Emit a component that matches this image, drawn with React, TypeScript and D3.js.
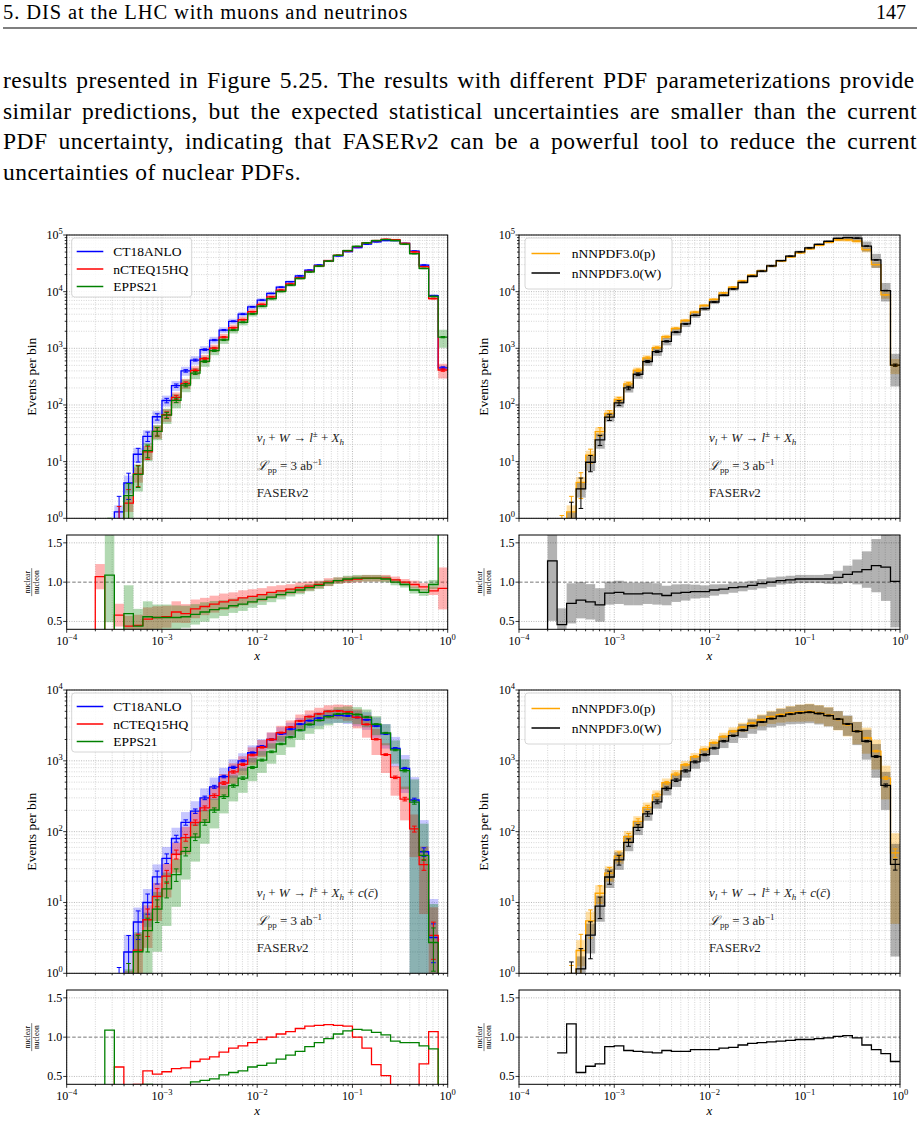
import { useLayoutEffect, useRef } from 'react'
import * as d3 from 'd3'

const FONT = "'Liberation Serif', 'DejaVu Serif', serif"

// log10(x) edges of the histogram bins (0.1 per bin)
const logEdges = [
  -3.7, -3.6, -3.5, -3.4, -3.3, -3.2, -3.1, -3.0, -2.9, -2.8, -2.7, -2.6, -2.5,
  -2.4, -2.3, -2.2, -2.1, -2.0, -1.9, -1.8, -1.7, -1.6, -1.5, -1.4, -1.3, -1.2,
  -1.1, -1.0, -0.9, -0.8, -0.7, -0.6, -0.5, -0.4, -0.3, -0.2, -0.1, 0.0,
]

// nu_l + W -> l + X_h : events per bin, relative PDF uncertainty, nuclear/nucleon
const ct18W = [0.3, 0.35, 1.3, 4.2, 13.5, 28, 62, 120, 220, 400, 620, 950, 1400, 2100, 3000, 4000, 5400, 7100, 9300, 12000, 15000, 19000, 24000, 29500, 35000, 43000, 51000, 60000, 69000, 76000, 80000, 80000, 71000, 52000, 29500, 8500, 450]
const ct18UncW = [0.3, 0.3, 0.3, 0.35, 0.3, 0.28, 0.25, 0.22, 0.2, 0.18, 0.17, 0.15, 0.14, 0.12, 0.11, 0.1, 0.09, 0.08, 0.07, 0.06, 0.05, 0.05, 0.04, 0.04, 0.04, 0.04, 0.04, 0.04, 0.04, 0.04, 0.04, 0.04, 0.04, 0.04, 0.05, 0.06, 0.1]
const nctq15RatioW = [1.07, 0.2, 0.58, 0.44, 0.45, 0.53, 0.55, 0.56, 0.62, 0.6, 0.66, 0.69, 0.72, 0.75, 0.77, 0.8, 0.82, 0.84, 0.87, 0.89, 0.91, 0.93, 0.95, 0.97, 1.0, 1.02, 1.03, 1.04, 1.05, 1.05, 1.05, 1.03, 1.0, 0.97, 0.94, 0.89, 0.92]
const nctq15UncW = [0.15, 0.3, 0.25, 0.3, 0.3, 0.28, 0.26, 0.25, 0.22, 0.2, 0.18, 0.16, 0.15, 0.14, 0.13, 0.12, 0.11, 0.1, 0.09, 0.08, 0.07, 0.07, 0.06, 0.05, 0.05, 0.04, 0.04, 0.04, 0.04, 0.04, 0.04, 0.04, 0.04, 0.05, 0.05, 0.06, 0.29]
const epps21RatioW = [0, 1.09, 0, 0.6, 0.44, 0.56, 0.55, 0.55, 0.55, 0.56, 0.59, 0.62, 0.65, 0.67, 0.7, 0.72, 0.75, 0.78, 0.81, 0.84, 0.87, 0.9, 0.93, 0.96, 0.99, 1.02, 1.04, 1.05, 1.05, 1.05, 1.04, 1.0, 0.97, 0.9, 0.87, 0.97, 3.5]
const epps21UncW = [0, 0.55, 0, 0.6, 0.5, 0.35, 0.3, 0.3, 0.28, 0.25, 0.22, 0.2, 0.17, 0.15, 0.13, 0.12, 0.1, 0.09, 0.08, 0.07, 0.06, 0.06, 0.05, 0.05, 0.04, 0.04, 0.04, 0.04, 0.04, 0.04, 0.04, 0.04, 0.04, 0.05, 0.05, 0.06, 0.35]
const nnpdfProtonW = [0.15, 0.45, 1.3, 4.3, 13, 34, 71, 125, 235, 410, 680, 1030, 1600, 2250, 3100, 4350, 5700, 7300, 9500, 12000, 15500, 19500, 23500, 28500, 34500, 41000, 48500, 57000, 65500, 74000, 82000, 82000, 78000, 55000, 30000, 8800, 500]
const nnpdfProtonUncW = [0.5, 0.4, 0.3, 0.25, 0.2, 0.18, 0.15, 0.14, 0.13, 0.12, 0.11, 0.1, 0.09, 0.08, 0.07, 0.07, 0.06, 0.06, 0.05, 0.05, 0.05, 0.04, 0.04, 0.04, 0.04, 0.04, 0.04, 0.04, 0.04, 0.05, 0.06, 0.07, 0.08, 0.1, 0.12, 0.15, 0.3]
const nnpdfRatioW = [1.27, 0.46, 0.73, 0.77, 0.75, 0.71, 0.86, 0.87, 0.85, 0.85, 0.86, 0.85, 0.83, 0.86, 0.87, 0.88, 0.88, 0.9, 0.91, 0.93, 0.94, 0.96, 0.98, 1.0, 1.02, 1.03, 1.04, 1.04, 1.04, 1.04, 1.06, 1.1, 1.13, 1.16, 1.21, 1.19, 1.01]
const nnpdfUncW = [0.6, 0.45, 0.35, 0.3, 0.3, 0.3, 0.17, 0.17, 0.17, 0.17, 0.16, 0.16, 0.15, 0.13, 0.12, 0.1, 0.09, 0.08, 0.07, 0.07, 0.06, 0.06, 0.06, 0.06, 0.05, 0.05, 0.05, 0.05, 0.05, 0.06, 0.08, 0.1, 0.14, 0.2, 0.28, 0.36, 0.58]

// nu_l + W -> l + X_h + c(cbar)
const ct18C = [0.1, 0.2, 0.5, 2.0, 5.3, 10, 23, 42, 80, 135, 195, 300, 430, 600, 810, 1000, 1300, 1600, 2000, 2400, 2800, 3300, 3700, 4000, 4300, 4400, 4300, 4100, 3800, 3100, 2400, 1500, 780, 280, 52, 3.2, 0]
const ct18UncC = [0.9, 0.9, 0.9, 0.75, 0.6, 0.55, 0.5, 0.45, 0.42, 0.4, 0.38, 0.36, 0.35, 0.33, 0.3, 0.28, 0.27, 0.26, 0.25, 0.24, 0.23, 0.22, 0.22, 0.22, 0.22, 0.22, 0.23, 0.25, 0.28, 0.32, 0.38, 0.45, 0.55, 1.1, 1.8, 2.5, 0]
const nctq15RatioC = [0, 0, 0.62, 0.3, 0.4, 0.57, 0.53, 0.56, 0.6, 0.61, 0.69, 0.72, 0.75, 0.81, 0.86, 0.89, 0.93, 0.97, 1.0, 1.04, 1.07, 1.11, 1.14, 1.15, 1.16, 1.15, 1.14, 1.0, 0.86, 0.65, 0.51, 0.39, 0.37, 0.39, 0.66, 1.07, 0]
const nctq15UncC = [0, 0, 0.8, 0.8, 0.7, 0.6, 0.55, 0.5, 0.45, 0.42, 0.4, 0.38, 0.36, 0.34, 0.32, 0.3, 0.28, 0.27, 0.26, 0.25, 0.24, 0.23, 0.22, 0.22, 0.22, 0.23, 0.25, 0.3, 0.35, 0.4, 0.45, 0.45, 0.5, 0.6, 0.8, 1.5, 0]
const epps21RatioC = [0, 1.09, 0, 0.3, 0.38, 0.4, 0.35, 0.37, 0.31, 0.39, 0.43, 0.45, 0.47, 0.52, 0.55, 0.57, 0.62, 0.64, 0.67, 0.72, 0.77, 0.82, 0.88, 0.93, 0.98, 1.04, 1.08, 1.1, 1.09, 1.06, 1.03, 0.95, 0.93, 0.93, 0.89, 0.85, 0]
const epps21UncC = [0, 0.9, 0, 0.9, 0.9, 0.8, 0.75, 0.7, 0.65, 0.6, 0.55, 0.5, 0.45, 0.42, 0.4, 0.38, 0.36, 0.34, 0.32, 0.3, 0.28, 0.27, 0.26, 0.25, 0.25, 0.25, 0.26, 0.27, 0.28, 0.3, 0.33, 0.36, 0.45, 1.1, 1.8, 2.5, 0]
const nnpdfProtonC = [0, 0.3, 0.55, 2.1, 5.5, 13.5, 26, 45, 85, 140, 220, 330, 490, 650, 880, 1150, 1450, 1800, 2200, 2600, 3000, 3400, 3800, 4200, 4500, 4750, 4900, 5000, 4750, 4400, 3850, 3250, 2630, 2100, 1370, 570, 50]
const nnpdfProtonUncC = [0, 0.5, 0.5, 0.4, 0.35, 0.3, 0.25, 0.22, 0.2, 0.18, 0.17, 0.16, 0.15, 0.14, 0.13, 0.12, 0.12, 0.12, 0.13, 0.14, 0.15, 0.17, 0.19, 0.21, 0.23, 0.25, 0.27, 0.28, 0.29, 0.3, 0.3, 0.32, 0.35, 0.4, 0.45, 0.5, 0.9]
const nnpdfRatioC = [null, 0.8, 1.17, 0.55, 0.63, 0.66, 0.88, 0.89, 0.83, 0.82, 0.81, 0.8, 0.83, 0.82, 0.82, 0.84, 0.84, 0.84, 0.86, 0.87, 0.9, 0.92, 0.93, 0.94, 0.95, 0.96, 0.97, 0.97, 0.98, 0.99, 1.01, 1.02, 0.99, 0.9, 0.84, 0.79, 0.69]
const nnpdfUncC = [0, 0.6, 0.6, 0.5, 0.45, 0.4, 0.3, 0.28, 0.25, 0.22, 0.2, 0.2, 0.2, 0.2, 0.2, 0.2, 0.2, 0.2, 0.2, 0.21, 0.22, 0.23, 0.24, 0.25, 0.27, 0.28, 0.3, 0.3, 0.3, 0.3, 0.3, 0.32, 0.36, 0.45, 0.5, 0.55, 0.95]

const xTickExps = [-4, -3, -2, -1, 0]
const ratioTicks = [0.5, 1.0, 1.5]

const paragraph = [
  'results presented in Figure 5.25.  The results with different PDF parameterizations provide',
  'similar predictions, but the expected statistical uncertainties are smaller than the current',
]

type Curve = {
  name: string
  color: string
  values: (number | null)[]
  unc: number[]
  fill: string
  fillOpacity: number
  ratio?: (number | null)[]
}

type Legend = { bx: number; w: number; h: number; lx0: number; lx1: number; tx: number; row0: number; dy: number }

type PanelSpec = {
  id: string
  left: number
  top: number
  bottom: number
  rTop: number
  rBottom: number
  yExp: number
  charm: boolean
  ratioBands: boolean
  legend: Legend
  curves: Curve[]
}

// nuclear prediction = nucleon baseline times nuclear/nucleon ratio
const scaled = (base: number[], ratio: (number | null)[]) =>
  base.map((v, i) => (ratio[i] == null ? null : v * (ratio[i] as number)))

const PLOT_W = 381

const legendCT: Legend = { bx: 5, w: 120, h: 59, lx0: 10, lx1: 36.6, tx: 46.6, row0: 16.5, dy: 17.5 }
const legendNN: Legend = { bx: 6, w: 147, h: 51, lx0: 12.5, lx1: 41, tx: 52.7, row0: 18.5, dy: 19.5 }

const nuclearCurves = (base: number[], baseUnc: number[], rN: (number | null)[], uN: number[], rE: (number | null)[], uE: number[]): Curve[] => [
  { name: 'CT18ANLO', color: '#0000ff', values: base, unc: baseUnc, fill: '#0000ff', fillOpacity: 0.22 },
  { name: 'nCTEQ15HQ', color: '#ff0000', values: scaled(base, rN), unc: uN, fill: '#ff0000', fillOpacity: 0.3, ratio: rN },
  { name: 'EPPS21', color: '#008000', values: scaled(base, rE), unc: uE, fill: '#008000', fillOpacity: 0.3, ratio: rE },
]

const nnpdfCurves = (base: number[], baseUnc: number[], r: (number | null)[], u: number[]): Curve[] => [
  { name: 'nNNPDF3.0(p)', color: '#ffa500', values: base, unc: baseUnc, fill: '#ffa500', fillOpacity: 0.35 },
  { name: 'nNNPDF3.0(W)', color: '#000000', values: scaled(base, r), unc: u, fill: '#000000', fillOpacity: 0.3, ratio: r },
]

const panels: PanelSpec[] = [
  {
    id: 'tl', left: 66.7, top: 235, bottom: 518.3, rTop: 535, rBottom: 629.3, yExp: 5, charm: false, ratioBands: true,
    legend: legendCT,
    curves: nuclearCurves(ct18W, ct18UncW, nctq15RatioW, nctq15UncW, epps21RatioW, epps21UncW),
  },
  {
    id: 'tr', left: 519, top: 235, bottom: 518.3, rTop: 535, rBottom: 629.3, yExp: 5, charm: false, ratioBands: true,
    legend: legendNN,
    curves: nnpdfCurves(nnpdfProtonW, nnpdfProtonUncW, nnpdfRatioW, nnpdfUncW),
  },
  {
    id: 'bl', left: 66.7, top: 690, bottom: 973.3, rTop: 990, rBottom: 1084.3, yExp: 4, charm: true, ratioBands: false,
    legend: legendCT,
    curves: nuclearCurves(ct18C, ct18UncC, nctq15RatioC, nctq15UncC, epps21RatioC, epps21UncC),
  },
  {
    id: 'br', left: 519, top: 690, bottom: 973.3, rTop: 990, rBottom: 1084.3, yExp: 4, charm: true, ratioBands: false,
    legend: legendNN,
    curves: nnpdfCurves(nnpdfProtonC, nnpdfProtonUncC, nnpdfRatioC, nnpdfUncC),
  },
]

const gridMajor = { stroke: '#a6a6a6', strokeWidth: 0.8, strokeDasharray: '1,1.4' }
const gridMinor = { stroke: '#c4c4c4', strokeWidth: 0.7, strokeDasharray: '1,1.4' }

const isDecade = (t: number) => Math.abs(Math.log10(t) - Math.round(Math.log10(t))) < 1e-9

// a text line stretched to a fixed width by widening the gaps between words
function Justified({ x, y, width, fontSize, tracking, children }: { x: number; y: number; width: number; fontSize: number; tracking: number; children: any }) {
  const ref = useRef<SVGTextElement>(null)
  useLayoutEffect(() => {
    const el = ref.current
    if (!el) return
    el.style.wordSpacing = '0px'
    const natural = el.getComputedTextLength()
    const gaps = ((el.textContent || '').match(/ /g) || []).length
    if (gaps > 0) el.style.wordSpacing = `${Math.max(0, (width - natural) / gaps)}px`
  }, [width])
  return (
    <text ref={ref} x={x} y={y} fontSize={fontSize} style={{ letterSpacing: `${tracking}px` }}>
      {children}
    </text>
  )
}

function Pow({ x, y, e, anchor }: { x: number; y: number; e: number; anchor: string }) {
  return (
    <text x={x} y={y} fontSize={12} textAnchor={anchor}>
      10<tspan dy={-5} fontSize={8.5}>{e < 0 ? `\u2212${-e}` : `${e}`}</tspan>
    </text>
  )
}

function Process({ x, y, charm }: { x: number; y: number; charm: boolean }) {
  return (
    <g fontSize={13} fill="#222" style={{ whiteSpace: 'pre' }}>
      <text x={x} y={y}>
        <tspan fontStyle="italic">ν</tspan>
        <tspan fontStyle="italic" fontSize={9} dy={3}>l</tspan>
        <tspan dy={-3}> + </tspan>
        <tspan fontStyle="italic">W</tspan>
        <tspan> → </tspan>
        <tspan fontStyle="italic">l</tspan>
        <tspan fontSize={9} dy={-5}>±</tspan>
        <tspan dy={5}> + </tspan>
        <tspan fontStyle="italic">X</tspan>
        <tspan fontStyle="italic" fontSize={9} dy={3}>h</tspan>
        {charm && (
          <>
            <tspan dy={-3}> + </tspan>
            <tspan fontStyle="italic">c</tspan>
            <tspan>(</tspan>
            <tspan fontStyle="italic">{'c\u0304'}</tspan>
            <tspan>)</tspan>
          </>
        )}
      </text>
      <text x={x} y={y + 28}>
        <tspan fontStyle="italic">ℒ</tspan>
        <tspan fontSize={9} dy={3}>pp</tspan>
        <tspan dy={-3}> = 3 ab</tspan>
        <tspan fontSize={9} dy={-5}>−1</tspan>
      </text>
      <text x={x} y={y + 55}>
        FASER<tspan fontStyle="italic">ν</tspan>2
      </text>
    </g>
  )
}

function Panel({ p }: { p: PanelSpec }) {
  const right = p.left + PLOT_W
  const x = d3.scaleLog().domain([1e-4, 1]).range([p.left, right])
  const y = d3.scaleLog().domain([1, 10 ** p.yExp]).range([p.bottom, p.top])
  const r = d3.scaleLinear().domain([0.4, 1.6]).range([p.rBottom, p.rTop])
  const xt = x.ticks()
  const yt = y.ticks()
  const below = p.bottom + 40
  const ym = (v: number) => (v > 0 ? y(v) : below)
  const edgeX = (i: number) => x(10 ** logEdges[i])
  const line = d3.line<any>().defined((d) => d.ok).x((d) => d.x).y((d) => d.y)

  // histogram outline: flat top per bin joined by vertical risers
  const stepPath = (vals: (number | null)[], f: (v: number) => number, floor: number) => {
    const pts: any[] = []
    vals.forEach((v, i) => {
      if (v == null) {
        pts.push({ x: edgeX(i), y: 0, ok: false })
        return
      }
      if (i === 0) pts.push({ x: edgeX(0), y: floor, ok: true })
      const yy = f(v)
      pts.push({ x: edgeX(i), y: yy, ok: true }, { x: edgeX(i + 1), y: yy, ok: true })
    })
    return line(pts) || ''
  }

  const mainClip = `clip-main-${p.id}`
  const ratioClip = `clip-ratio-${p.id}`
  const lg = p.legend
  const midMain = (p.top + p.bottom) / 2
  const midRatio = (p.rTop + p.rBottom) / 2
  const labelX = p.left - 35

  return (
    <g>
      <defs>
        <clipPath id={mainClip}>
          <rect x={p.left} y={p.top} width={PLOT_W} height={p.bottom - p.top} />
        </clipPath>
        <clipPath id={ratioClip}>
          <rect x={p.left} y={p.rTop} width={PLOT_W} height={p.rBottom - p.rTop} />
        </clipPath>
      </defs>

      {/* main panel grid */}
      {xt.map((t, i) => (
        <line key={`gx${i}`} x1={x(t)} x2={x(t)} y1={p.top} y2={p.bottom} {...(isDecade(t) ? gridMajor : gridMinor)} />
      ))}
      {yt.map((t, i) => (
        <line key={`gy${i}`} x1={p.left} x2={right} y1={y(t)} y2={y(t)} {...(isDecade(t) ? gridMajor : gridMinor)} />
      ))}

      <g clipPath={`url(#${mainClip})`}>
        {p.curves.map((c) =>
          c.values.map((v, i) =>
            v != null && v > 0 && c.unc[i] > 0 ? (
              <rect
                key={`b${c.name}${i}`}
                x={edgeX(i)}
                width={edgeX(i + 1) - edgeX(i)}
                y={ym(v * (1 + c.unc[i]))}
                height={ym(Math.max(v * (1 - c.unc[i]), 1e-3)) - ym(v * (1 + c.unc[i]))}
                fill={c.fill}
                fillOpacity={c.fillOpacity}
              />
            ) : null,
          ),
        )}
        {p.curves.map((c) => (
          <g key={`l${c.name}`}>
            <path d={stepPath(c.values, ym, below)} fill="none" stroke={c.color} strokeWidth={1.3} />
            {c.values.map((v, i) => {
              if (v == null || v < 0.2) return null
              const cx = x(10 ** ((logEdges[i] + logEdges[i + 1]) / 2))
              const e = Math.sqrt(v)
              const y0 = ym(v - e)
              const y1 = ym(v + e)
              return (
                <g key={`e${i}`} stroke={c.color} strokeWidth={1}>
                  <line x1={cx} x2={cx} y1={y0} y2={y1} />
                  <line x1={cx - 2.3} x2={cx + 2.3} y1={y0} y2={y0} />
                  <line x1={cx - 2.3} x2={cx + 2.3} y1={y1} y2={y1} />
                </g>
              )
            })}
          </g>
        ))}
      </g>

      <rect x={p.left} y={p.top} width={PLOT_W} height={p.bottom - p.top} fill="none" stroke="#000" strokeWidth={1} />
      {yt.map((t, i) => (
        <line key={`ty${i}`} x1={p.left} x2={p.left - (isDecade(t) ? 3.5 : 2)} y1={y(t)} y2={y(t)} stroke="#000" strokeWidth={0.8} />
      ))}
      {xt.map((t, i) => (
        <line key={`tx${i}`} x1={x(t)} x2={x(t)} y1={p.bottom} y2={p.bottom + (isDecade(t) ? 3.5 : 2)} stroke="#000" strokeWidth={0.8} />
      ))}
      {yt.filter(isDecade).map((t) => (
        <Pow key={`yl${t}`} x={p.left - 4} y={y(t) + 4} e={Math.round(Math.log10(t))} anchor="end" />
      ))}
      <text x={labelX} y={midMain} fontSize={13.5} textAnchor="middle" transform={`rotate(-90 ${labelX} ${midMain})`} dy={4}>
        Events per bin
      </text>

      {/* legend */}
      <rect x={p.left + lg.bx} y={p.top + 3} width={lg.w} height={lg.h} rx={3} fill="#fff" fillOpacity={0.85} stroke="#cccccc" strokeWidth={0.8} />
      {p.curves.map((c, i) => {
        const ly = p.top + lg.row0 + i * lg.dy
        return (
          <g key={`lg${c.name}`}>
            <line x1={p.left + lg.lx0} x2={p.left + lg.lx1} y1={ly} y2={ly} stroke={c.color} strokeWidth={1.5} />
            <text x={p.left + lg.tx} y={ly + 4.5} fontSize={13.5}>
              {c.name}
            </text>
          </g>
        )
      })}

      <Process x={p.left + 190} y={p.top + 207} charm={p.charm} />

      {/* ratio panel */}
      {xt.map((t, i) => (
        <line key={`rgx${i}`} x1={x(t)} x2={x(t)} y1={p.rTop} y2={p.rBottom} {...(isDecade(t) ? gridMajor : gridMinor)} />
      ))}
      {ratioTicks.map((t) => (
        <line
          key={`rgy${t}`}
          x1={p.left}
          x2={right}
          y1={r(t)}
          y2={r(t)}
          stroke={t === 1 ? '#666' : '#a6a6a6'}
          strokeWidth={t === 1 ? 0.9 : 0.8}
          strokeDasharray={t === 1 ? '3.5,2' : '1,1.4'}
        />
      ))}
      <g clipPath={`url(#${ratioClip})`}>
        {p.ratioBands &&
          p.curves.map((c) =>
            c.ratio
              ? c.ratio.map((v, i) =>
                  v != null && v > 0 && c.unc[i] > 0 ? (
                    <rect
                      key={`rb${c.name}${i}`}
                      x={edgeX(i)}
                      width={edgeX(i + 1) - edgeX(i)}
                      y={r(v * (1 + c.unc[i]))}
                      height={r(v * (1 - c.unc[i])) - r(v * (1 + c.unc[i]))}
                      fill={c.fill}
                      fillOpacity={c.fillOpacity}
                    />
                  ) : null,
                )
              : null,
          )}
        {p.curves.map((c) =>
          c.ratio ? (
            <path key={`rl${c.name}`} d={stepPath(c.ratio, (v) => r(v), p.rBottom + 40)} fill="none" stroke={c.color} strokeWidth={1.3} />
          ) : null,
        )}
      </g>
      <rect x={p.left} y={p.rTop} width={PLOT_W} height={p.rBottom - p.rTop} fill="none" stroke="#000" strokeWidth={1} />
      {ratioTicks.map((t) => (
        <g key={`rt${t}`}>
          <line x1={p.left} x2={p.left - 3.5} y1={r(t)} y2={r(t)} stroke="#000" strokeWidth={0.8} />
          <text x={p.left - 4.5} y={r(t) + 4} fontSize={12} textAnchor="end">
            {t.toFixed(1)}
          </text>
        </g>
      ))}
      {xt.map((t, i) => (
        <line key={`rtx${i}`} x1={x(t)} x2={x(t)} y1={p.rBottom} y2={p.rBottom + (isDecade(t) ? 3.5 : 2)} stroke="#000" strokeWidth={0.8} />
      ))}
      {xTickExps.map((e) => (
        <Pow key={`xl${e}`} x={x(10 ** e)} y={p.rBottom + 16} e={e} anchor="middle" />
      ))}
      <text x={p.left + PLOT_W / 2} y={p.rBottom + 31} fontSize={13} fontStyle="italic" textAnchor="middle">
        x
      </text>
      <g transform={`translate(${labelX} ${midRatio}) rotate(-90)`} fontSize={7.5} textAnchor="middle">
        <text x={0} y={-2}>nuclear</text>
        <line x1={-14} x2={14} y1={0} y2={0} stroke="#000" strokeWidth={0.5} />
        <text x={0} y={7}>nucleon</text>
      </g>
    </g>
  )
}

export default function App() {
  return (
    <svg
      width={920}
      height={1123}
      viewBox="0 0 920 1123"
      fontFamily={FONT}
      style={{ position: 'absolute', left: 0, top: 0, background: '#fff' }}
    >
      <rect width={920} height={1123} fill="#fff" />
      <Justified x={3} y={19} width={400} fontSize={20.5} tracking={0.9}>
        5. DIS at the LHC with muons and neutrinos
      </Justified>
      <text x={906} y={19} fontSize={20} textAnchor="end">
        147
      </text>
      <line x1={3} x2={917} y1={28} y2={28} stroke="#000" strokeWidth={1.2} />

      {paragraph.map((t, i) => (
        <Justified key={i} x={3} y={88 + i * 30.5} width={914} fontSize={23.5} tracking={0.45}>
          {t}
        </Justified>
      ))}
      <Justified x={3} y={149} width={914} fontSize={23.5} tracking={0.45}>
        PDF uncertainty, indicating that FASER<tspan fontStyle="italic">ν</tspan>2 can be a powerful tool to reduce the current
      </Justified>
      <text x={3} y={179.5} fontSize={23.5} style={{ letterSpacing: '0.45px' }}>
        uncertainties of nuclear PDFs.
      </text>

      {panels.map((p) => (
        <Panel key={p.id} p={p} />
      ))}
    </svg>
  )
}
